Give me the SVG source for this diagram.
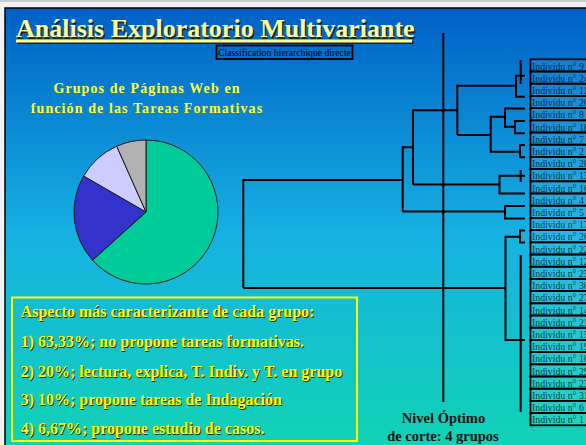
<svg xmlns="http://www.w3.org/2000/svg" width="586" height="445" viewBox="0 0 586 445">
<defs>
<linearGradient id="bg" x1="0" y1="0" x2="0" y2="1">
<stop offset="0" stop-color="#0060C6"/>
<stop offset="0.5" stop-color="#16B2E2"/>
<stop offset="1" stop-color="#10D6B0"/>
</linearGradient>
<style>
.serif{font-family:"Liberation Serif","Times New Roman",serif}
.ttl{font-family:"Liberation Serif",serif;font-weight:bold;font-size:26px}
.sub{font-family:"Liberation Serif",serif;font-weight:bold;font-size:14px;fill:#FFFF33;letter-spacing:1.1px;text-anchor:middle}
.asp{font-family:"Liberation Serif",serif;font-weight:bold;font-size:16px}
.asp .sh{fill:#2a2a10}
.asp .fg{fill:#FFFF00}
.lbl rect{fill:#ffffff;fill-opacity:0.08;stroke:#000;stroke-width:1.8}
.lbl text{font-family:"Liberation Serif",serif;font-size:9.8px;fill:#000;fill-opacity:0.72}
.cn path{fill:none;stroke:#000;stroke-width:2}
.pie path{stroke:#1a1a1a;stroke-width:1}
.nivel{font-family:"Liberation Serif",serif;font-weight:bold;font-size:14.5px;fill:#141414;text-anchor:middle}
</style>
</defs>
<rect x="0" y="0" width="586" height="445" fill="#f2f2f2"/>
<line x1="0" y1="1" x2="586" y2="1" stroke="#bdbdbd" stroke-width="1.5"/>
<rect x="5" y="8" width="600" height="460" fill="url(#bg)" stroke="#000" stroke-width="1.5"/>

<g id="title">
<text class="ttl" x="17.5" y="38.8" fill="#222">Análisis Exploratorio Multivariante</text>
<rect x="17.5" y="41" width="396" height="3" fill="#222"/>
<text class="ttl" x="16" y="37.3" fill="#FFFF99">Análisis Exploratorio Multivariante</text>
<rect x="16" y="39.5" width="396" height="3" fill="#FFFF99"/>
</g>

<g id="subtitle-box">
<rect x="216.5" y="45.5" width="136" height="13.5" fill="none" stroke="#000" stroke-width="1.8"/>
<text class="serif" x="218" y="55.6" font-size="9.7" fill="#000">Classification hierarchique directe</text>
</g>

<g id="pie-title">
<text class="sub" x="147" y="93.3">Grupos de Páginas Web en</text>
<text class="sub" x="147" y="112.7">función de las Tareas Formativas</text>
</g>

<g id="pie" class="pie">
<path d="M146,212 L146,140 A72,72 0 1 1 92.50,260.18 Z" fill="#00CC99"/>
<path d="M146,212 L92.50,260.18 A72,72 0 0 1 83.65,176 Z" fill="#3333CC"/>
<path d="M146,212 L83.65,176 A72,72 0 0 1 116.72,146.23 Z" fill="#CCCCFF"/>
<path d="M146,212 L116.72,146.23 A72,72 0 0 1 146,140 Z" fill="#B2B2B2"/>
</g>

<g id="aspecto-box">
<rect x="12" y="297.5" width="345" height="143.5" fill="none" stroke="#FFFF00" stroke-width="2"/>
<g class="asp">
<text class="sh" x="21.7" y="318.3">Aspecto más caracterizante de cada grupo:</text>
<text class="fg" x="20.7" y="317.3">Aspecto más caracterizante de cada grupo:</text>
<text class="sh" x="21.7" y="347.7">1) 63,33%; no propone tareas formativas.</text>
<text class="fg" x="20.7" y="346.7">1) 63,33%; no propone tareas formativas.</text>
<text class="sh" x="21.7" y="377.7">2) 20%; lectura, explica, T. Indiv. y T. en grupo</text>
<text class="fg" x="20.7" y="376.7">2) 20%; lectura, explica, T. Indiv. y T. en grupo</text>
<text class="sh" x="21.7" y="406">3) 10%; propone tareas de Indagación</text>
<text class="fg" x="20.7" y="405">3) 10%; propone tareas de Indagación</text>
<text class="sh" x="21.7" y="435">4) 6,67%; propone estudio de casos.</text>
<text class="fg" x="20.7" y="434">4) 6,67%; propone estudio de casos.</text>
</g>
</g>

<g id="connectors" class="cn">
<path d="M243.3,288 V180 H402.7 M243.3,288 H505.5"/>
<path d="M402.7,211.5 V147.3 H413 M402.7,211.5 H505"/>
<path d="M413,184.5 V110.3 H457.3 M413,184.5 H499.5"/>
<path d="M457.3,135 V85.7 H516 M457.3,135 H490.7"/>
<path d="M525,75.7 H516 V96.7 H525"/>
<path d="M520.7,60 V84"/>
<path d="M505,116.7 H490.7 V151.7 H520"/>
<path d="M525,108.5 H505 V126.7 H515"/>
<path d="M525,121 H515 V133.3 H525"/>
<path d="M525,145 H520 V157.3 H525"/>
<path d="M525,175.7 H499.5 V193.5 H525"/>
<path d="M520.7,170 V182"/>
<path d="M525,206 H505 V218.5 H525"/>
<path d="M520,236.7 H505.5 V340 H525"/>
<path d="M525,230.5 H520 V242.5 H525"/>
<path d="M520.7,255 V412"/>
<path d="M443.3,33 V402" stroke-width="3.6"/>
</g>

<g id="nivel-optimo">
<text class="nivel" x="443.5" y="422.7">Nivel Óptimo</text>
<text class="nivel" x="443" y="440.5">de corte: 4 grupos</text>
</g>

<g id="labels" class="lbl">
<g id="ind-9"><rect x="530.5" y="59.3" width="70" height="12.2"/><text x="532" y="69.6">Individu n° 9</text></g>
<g id="ind-24"><rect x="530.5" y="71.5" width="70" height="12.2"/><text x="532" y="81.8">Individu n° 24</text></g>
<g id="ind-11"><rect x="530.5" y="83.7" width="70" height="12.2"/><text x="532" y="94">Individu n° 11</text></g>
<g id="ind-20"><rect x="530.5" y="95.9" width="70" height="12.2"/><text x="532" y="106.2">Individu n° 20</text></g>
<g id="ind-8"><rect x="530.5" y="108.1" width="70" height="12.2"/><text x="532" y="118.4">Individu n° 8</text></g>
<g id="ind-18"><rect x="530.5" y="120.3" width="70" height="12.2"/><text x="532" y="130.6">Individu n° 18</text></g>
<g id="ind-7"><rect x="530.5" y="132.5" width="70" height="12.2"/><text x="532" y="142.8">Individu n° 7</text></g>
<g id="ind-2"><rect x="530.5" y="144.7" width="70" height="12.2"/><text x="532" y="155">Individu n° 2</text></g>
<g id="ind-28"><rect x="530.5" y="156.9" width="70" height="12.2"/><text x="532" y="167.2">Individu n° 28</text></g>
<g id="ind-13"><rect x="530.5" y="169.1" width="70" height="12.2"/><text x="532" y="179.4">Individu n° 13</text></g>
<g id="ind-16"><rect x="530.5" y="181.3" width="70" height="12.2"/><text x="532" y="191.6">Individu n° 16</text></g>
<g id="ind-4"><rect x="530.5" y="193.5" width="70" height="12.2"/><text x="532" y="203.8">Individu n° 4</text></g>
<g id="ind-5"><rect x="530.5" y="205.7" width="70" height="12.2"/><text x="532" y="216">Individu n° 5</text></g>
<g id="ind-17"><rect x="530.5" y="217.9" width="70" height="12.2"/><text x="532" y="228.2">Individu n° 17</text></g>
<g id="ind-26"><rect x="530.5" y="230.1" width="70" height="12.2"/><text x="532" y="240.4">Individu n° 26</text></g>
<g id="ind-22"><rect x="530.5" y="242.3" width="70" height="12.2"/><text x="532" y="252.6">Individu n° 22</text></g>
<g id="ind-12"><rect x="530.5" y="254.5" width="70" height="12.2"/><text x="532" y="264.8">Individu n° 12</text></g>
<g id="ind-25"><rect x="530.5" y="266.7" width="70" height="12.2"/><text x="532" y="277">Individu n° 25</text></g>
<g id="ind-30"><rect x="530.5" y="278.9" width="70" height="12.2"/><text x="532" y="289.2">Individu n° 30</text></g>
<g id="ind-27"><rect x="530.5" y="291.1" width="70" height="12.2"/><text x="532" y="301.4">Individu n° 27</text></g>
<g id="ind-14"><rect x="530.5" y="303.3" width="70" height="12.2"/><text x="532" y="313.6">Individu n° 14</text></g>
<g id="ind-21"><rect x="530.5" y="315.5" width="70" height="12.2"/><text x="532" y="325.8">Individu n° 21</text></g>
<g id="ind-15"><rect x="530.5" y="327.7" width="70" height="12.2"/><text x="532" y="338">Individu n° 15</text></g>
<g id="ind-19"><rect x="530.5" y="339.9" width="70" height="12.2"/><text x="532" y="350.2">Individu n° 19</text></g>
<g id="ind-10"><rect x="530.5" y="352.1" width="70" height="12.2"/><text x="532" y="362.4">Individu n° 10</text></g>
<g id="ind-29"><rect x="530.5" y="364.3" width="70" height="12.2"/><text x="532" y="374.6">Individu n° 29</text></g>
<g id="ind-23"><rect x="530.5" y="376.5" width="70" height="12.2"/><text x="532" y="386.8">Individu n° 23</text></g>
<g id="ind-31"><rect x="530.5" y="388.7" width="70" height="12.2"/><text x="532" y="399">Individu n° 31</text></g>
<g id="ind-6"><rect x="530.5" y="400.9" width="70" height="12.2"/><text x="532" y="411.2">Individu n° 6</text></g>
<g id="ind-1"><rect x="530.5" y="413.1" width="70" height="12.2"/><text x="532" y="423.4">Individu n° 1</text></g>
</g>
</svg>
